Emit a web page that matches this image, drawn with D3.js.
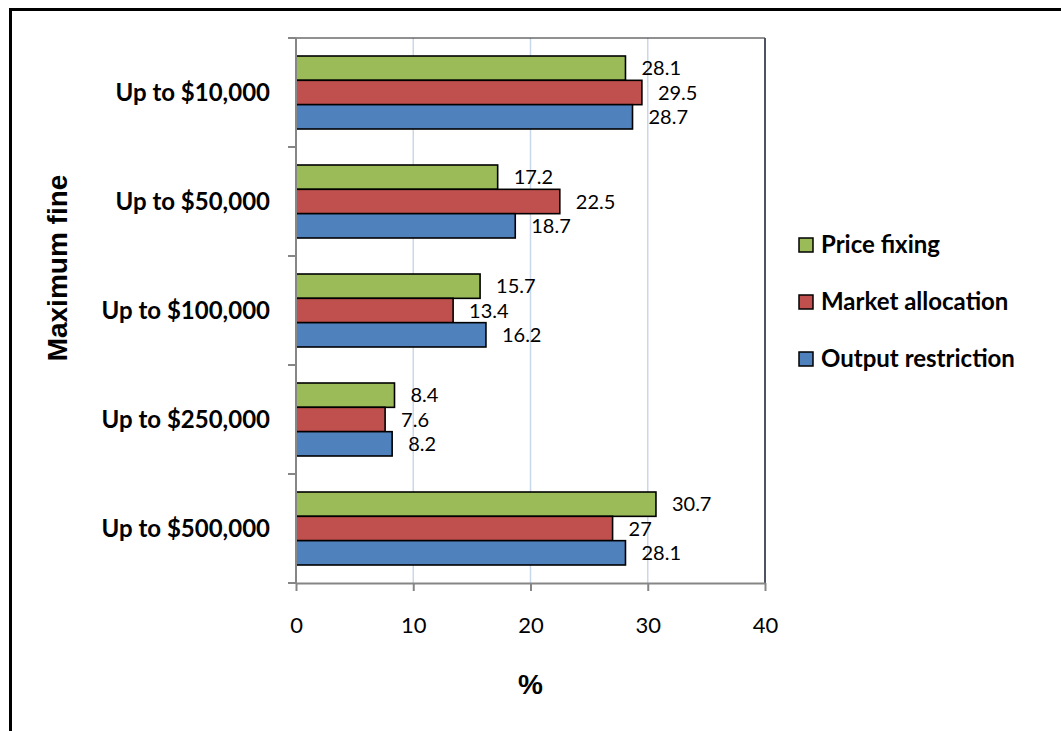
<!DOCTYPE html>
<html>
<head>
<meta charset="utf-8">
<script src="https://cdn.jsdelivr.net/npm/d3@7"></script>
<style>
  html, body { margin: 0; padding: 0; background: #fff; }
  svg { display: block; }
</style>
</head>
<body>
<svg id="chart" width="1061" height="731"></svg>
<script>
// Maximum fine brackets, top to bottom
const categories = ["Up to $10,000", "Up to $50,000", "Up to $100,000", "Up to $250,000", "Up to $500,000"];
const seriesNames = ["Price fixing", "Market allocation", "Output restriction"];
const priceFixing = [28.1, 17.2, 15.7, 8.4, 30.7];
const marketAllocation = [29.5, 22.5, 13.4, 7.6, 27];
const outputRestriction = [28.7, 18.7, 16.2, 8.2, 28.1];
const xTicks = [0, 10, 20, 30, 40];
const seriesColors = ["#9BBB59", "#C0504D", "#4F81BD"];

const seriesValues = [priceFixing, marketAllocation, outputRestriction];

const calibriLike = "Lato, 'Open Sans', sans-serif";
const arialLike = "'Liberation Sans', Arial, sans-serif";

const svg = d3.select("#chart");

// outer chart frame
svg.append("rect")
  .attr("x", 10.5).attr("y", 9.5)
  .attr("width", 1100).attr("height", 800)
  .attr("fill", "none").attr("stroke", "#000").attr("stroke-width", 3);

const plot = { left: 296, right: 765, top: 38, bottom: 583 };

const x = d3.scaleLinear().domain([0, 40]).range([plot.left, plot.right]);
const y = d3.scaleBand().domain(categories).range([plot.top, plot.bottom]).paddingInner(0).paddingOuter(0);
const inner = d3.scaleBand().domain(seriesNames)
  .range([0, y.bandwidth()]).paddingInner(0).paddingOuter(0.74);

// vertical gridlines
svg.append("g").selectAll("line")
  .data(xTicks.filter(t => t > 0 && t < 40))
  .join("line")
  .attr("x1", d => x(d)).attr("x2", d => x(d))
  .attr("y1", plot.top).attr("y2", plot.bottom)
  .attr("stroke", "#c9d7ec").attr("stroke-width", 1.5);

// plot area frame (top and right edges)
svg.append("line")
  .attr("x1", plot.left).attr("x2", plot.right)
  .attr("y1", plot.top).attr("y2", plot.top)
  .attr("stroke", "#222").attr("stroke-width", 1.2);
svg.append("line")
  .attr("x1", plot.right).attr("x2", plot.right)
  .attr("y1", plot.top).attr("y2", plot.bottom)
  .attr("stroke", "#4d5360").attr("stroke-width", 2);

// bars
const rows = [];
categories.forEach((c, i) => {
  seriesNames.forEach((s, j) => {
    rows.push({ cat: c, series: s, value: seriesValues[j][i], color: seriesColors[j] });
  });
});

const barG = svg.append("g");
barG.selectAll("rect")
  .data(rows)
  .join("rect")
  .attr("x", x(0))
  .attr("y", d => y(d.cat) + inner(d.series))
  .attr("width", d => x(d.value) - x(0))
  .attr("height", inner.bandwidth())
  .attr("fill", d => d.color)
  .attr("stroke", "#000").attr("stroke-width", 1.6);

// value labels
barG.selectAll("text")
  .data(rows)
  .join("text")
  .attr("x", d => x(d.value) + 16)
  .attr("y", d => y(d.cat) + inner(d.series) + inner.bandwidth() / 2)
  .attr("dy", "0.36em")
  .attr("font-family", calibriLike)
  .attr("font-size", 20)
  .attr("fill", "#000")
  .text(d => d.value);

// x axis
const xAxis = svg.append("g")
  .attr("transform", `translate(0,${plot.bottom})`)
  .call(d3.axisBottom(x).tickValues(xTicks).tickSize(8).tickSizeOuter(0).tickFormat(d3.format("d")));
xAxis.select(".domain").attr("stroke", "#868686").attr("stroke-width", 2);
xAxis.selectAll(".tick line").attr("stroke", "#868686").attr("stroke-width", 2);
xAxis.selectAll(".tick text")
  .attr("font-family", calibriLike).attr("font-size", 22)
  .attr("fill", "#000").attr("y", 50).attr("dy", "0");

// y axis: tick marks sit on category boundaries
const yAxisG = svg.append("g");
yAxisG.append("line")
  .attr("x1", plot.left).attr("x2", plot.left)
  .attr("y1", plot.top).attr("y2", plot.bottom)
  .attr("stroke", "#868686").attr("stroke-width", 2);
const boundaries = categories.map(c => y(c)).concat([plot.bottom]);
yAxisG.selectAll("line.tick")
  .data(boundaries)
  .join("line")
  .attr("class", "tick")
  .attr("x1", plot.left - 8).attr("x2", plot.left)
  .attr("y1", d => d).attr("y2", d => d)
  .attr("stroke", "#868686").attr("stroke-width", 2);
yAxisG.selectAll("text")
  .data(categories)
  .join("text")
  .attr("x", 270)
  .attr("y", d => y(d) + y.bandwidth() / 2)
  .attr("dy", "0.35em")
  .attr("text-anchor", "end")
  .attr("font-family", calibriLike)
  .attr("font-weight", "bold")
  .attr("font-size", 24)
  .attr("fill", "#000")
  .text(d => d);

// axis titles
svg.append("text")
  .attr("x", (plot.left + plot.right) / 2)
  .attr("y", 694)
  .attr("text-anchor", "middle")
  .attr("font-family", arialLike).attr("font-weight", "bold").attr("font-size", 28)
  .text("%");
svg.append("text")
  .attr("transform", "translate(67,268) rotate(-90)")
  .attr("text-anchor", "middle")
  .attr("font-family", arialLike).attr("font-weight", "bold").attr("font-size", 28)
  .text("Maximum fine");

// legend
const legend = svg.append("g");
const legendY = [245, 302, 359];
seriesNames.forEach((s, j) => {
  legend.append("rect")
    .attr("x", 799).attr("y", legendY[j] - 7)
    .attr("width", 14).attr("height", 14)
    .attr("fill", seriesColors[j]).attr("stroke", "#000").attr("stroke-width", 1.5);
  legend.append("text")
    .attr("x", 821).attr("y", legendY[j])
    .attr("dy", "0.35em")
    .attr("font-family", calibriLike).attr("font-weight", "bold").attr("font-size", 24)
    .text(s);
});
</script>
</body>
</html>
